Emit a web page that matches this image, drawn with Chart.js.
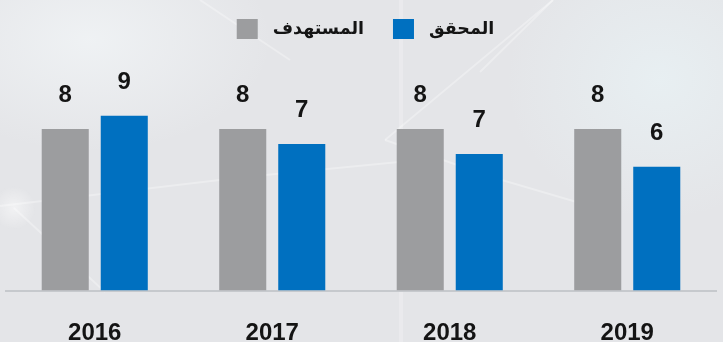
<!DOCTYPE html>
<html lang="ar">
<head>
<meta charset="utf-8">
<script src="https://cdn.jsdelivr.net/npm/chart.js@4.4.1/dist/chart.umd.min.js"></script>
<style>
  html, body { margin: 0; padding: 0; }
  body {
    width: 723px; height: 342px; overflow: hidden;
    background:
      radial-gradient(ellipse 260px 160px at 90px 40px, rgba(240,243,245,0.9), rgba(240,243,245,0) 70%),
      radial-gradient(ellipse 220px 200px at 660px 80px, rgba(232,240,243,0.9), rgba(232,240,243,0) 70%),
      #e4e5e8;
  }
  #wrap { position: relative; width: 723px; height: 342px; }
</style>
</head>
<body>
<div id="wrap"><canvas id="c" width="723" height="342"></canvas></div>
<script>
// Years on the x axis
const years = ['2016', '2017', '2018', '2019'];
// Series names (legend)
const targetLabel = 'المستهدف';
const achievedLabel = 'المحقق';
// Values per year
const targetValues = [8, 8, 8, 8];
const achievedValues = [8.66, 7.26, 6.76, 6.13];

const targetColor = '#9c9d9f';
const achievedColor = '#0070c0';
const textColor = '#141414';

// Faint network lines in the backdrop
const backdrop = {
  id: 'backdrop',
  beforeDraw(chart) {
    const ctx = chart.ctx;
    ctx.save();
    ctx.strokeStyle = 'rgba(255,255,255,0.3)';
    ctx.lineWidth = 2;
    const segs = [
      [0, 206, 245, 177], [245, 177, 440, 158], [14, 208, 105, 292],
      [495, 178, 580, 203], [480, 72, 553, 0], [385, 140, 553, 0],
      [385, 140, 495, 178], [200, 0, 290, 60]
    ];
    segs.forEach(s => { ctx.beginPath(); ctx.moveTo(s[0], s[1]); ctx.lineTo(s[2], s[3]); ctx.stroke(); });
    ctx.strokeStyle = 'rgba(255,255,255,0.22)';
    ctx.lineWidth = 4;
    ctx.beginPath(); ctx.moveTo(401, 0); ctx.lineTo(401, 342); ctx.stroke();
    const g = ctx.createRadialGradient(14, 208, 0, 14, 208, 22);
    g.addColorStop(0, 'rgba(255,255,255,0.5)');
    g.addColorStop(1, 'rgba(255,255,255,0)');
    ctx.fillStyle = g;
    ctx.fillRect(0, 180, 40, 60);
    ctx.restore();
  }
};

// Legend: square swatch followed by the series name
const swatchLegend = {
  id: 'swatchLegend',
  afterDraw(chart) {
    const ctx = chart.ctx;
    const box = 21, gapText = 15, gapItem = 29;
    ctx.save();
    ctx.font = 'bold 17.5px "DejaVu Sans", sans-serif';
    ctx.textBaseline = 'middle';
    ctx.textAlign = 'left';
    const items = chart.data.datasets.map(d => ({ text: d.label, color: d.backgroundColor, w: ctx.measureText(d.label).width }));
    let total = 0;
    items.forEach((it, i) => { total += box + gapText + it.w + (i < items.length - 1 ? gapItem : 0); });
    let x = (chart.width - total) / 2 + 4;
    const cy = 29;
    items.forEach(it => {
      ctx.fillStyle = it.color;
      ctx.fillRect(x, cy - 10, box, 20);
      x += box + gapText;
      ctx.fillStyle = textColor;
      ctx.fillText(it.text, x, cy);
      x += it.w + gapItem;
    });
    ctx.restore();
  }
};

// Rounded values above each bar
const valueLabels = {
  id: 'valueLabels',
  afterDatasetsDraw(chart) {
    const ctx = chart.ctx;
    ctx.save();
    ctx.font = 'bold 24px "Liberation Sans", sans-serif';
    ctx.fillStyle = textColor;
    ctx.textAlign = 'center';
    ctx.textBaseline = 'alphabetic';
    chart.data.datasets.forEach((ds, di) => {
      chart.getDatasetMeta(di).data.forEach((bar, i) => {
        ctx.fillText(String(Math.round(ds.data[i])), bar.x, bar.y - 27);
      });
    });
    ctx.restore();
  }
};

new Chart(document.getElementById('c'), {
  type: 'bar',
  data: {
    labels: years,
    datasets: [
      { label: targetLabel, data: targetValues, backgroundColor: targetColor },
      { label: achievedLabel, data: achievedValues, backgroundColor: achievedColor }
    ]
  },
  options: {
    responsive: false,
    animation: false,
    devicePixelRatio: 1,
    layout: { padding: { top: 88.6, left: 6, right: 7, bottom: -33.5 } },
    datasets: { bar: { categoryPercentage: 0.665, barPercentage: 0.797 } },
    plugins: {
      legend: { display: false },
      tooltip: { enabled: false }
    },
    scales: {
      x: {
        grid: { display: false, drawTicks: false },
        border: { display: true, color: '#c6c9cd', width: 2 },
        ticks: {
          color: textColor,
          padding: 30.5,
          font: { family: '"Liberation Sans", sans-serif', size: 24, weight: 'bold', lineHeight: 1 }
        }
      },
      y: { display: false, min: 0, max: 10 }
    }
  },
  plugins: [backdrop, swatchLegend, valueLabels]
});
</script>
</body>
</html>
